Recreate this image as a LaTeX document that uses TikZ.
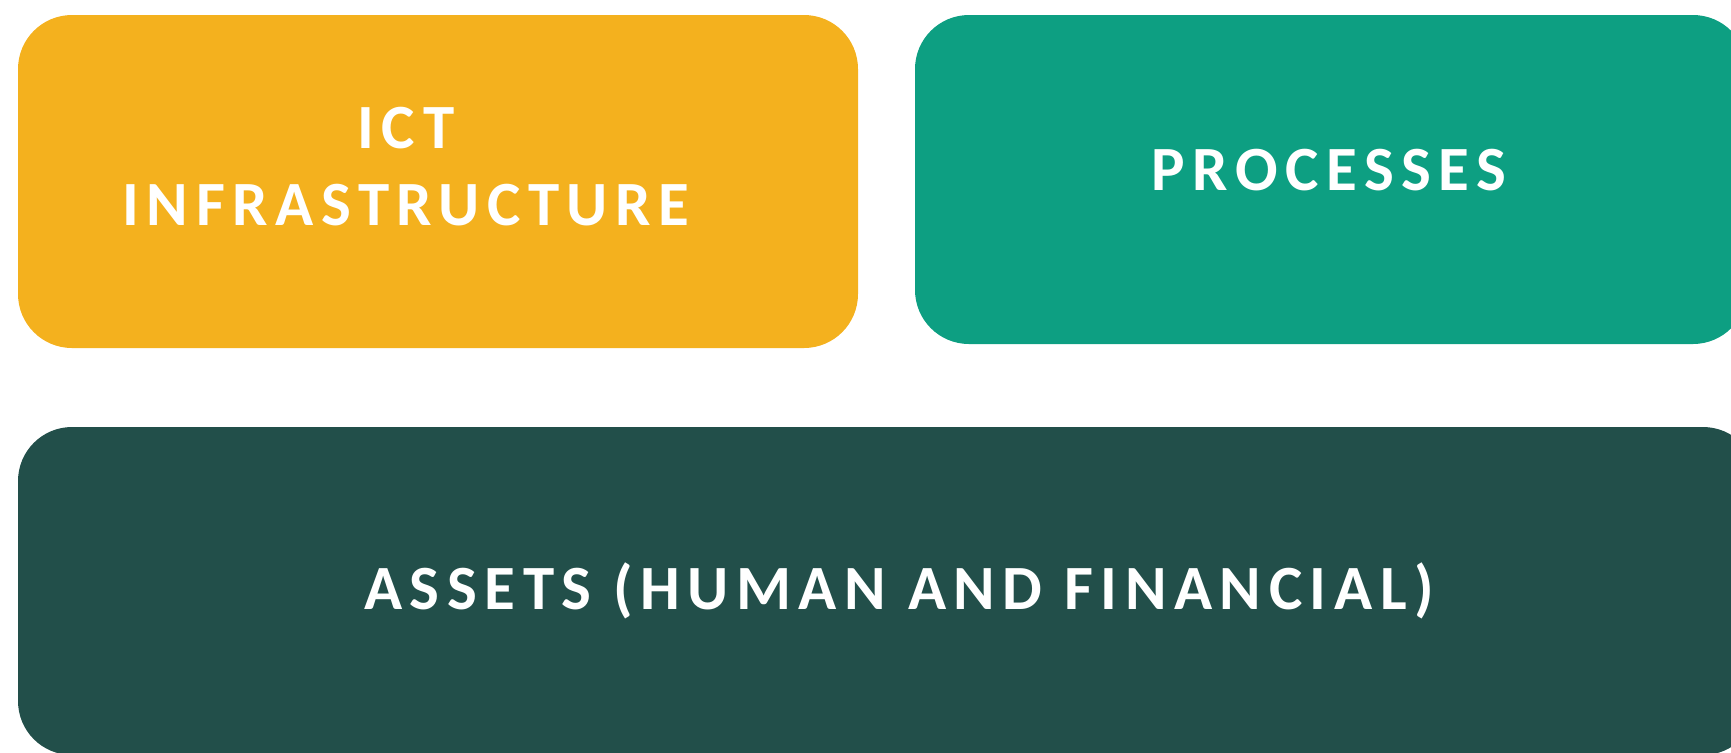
\documentclass[tikz,border=0pt]{standalone}
\usepackage{fontspec}
\setmainfont{Carlito}
\newfontfamily\capsfont{Carlito}[LetterSpace=12]
\usepackage{tikz}
\usetikzlibrary{positioning}

\definecolor{ictyellow}{RGB}{244,177,30}
\definecolor{procteal}{RGB}{13,159,130}
\definecolor{assetgreen}{RGB}{34,79,74}

\begin{document}
\begin{tikzpicture}[x=0.5pt, y=-0.5pt,
  block/.style={draw=none, rounded corners=27pt, inner sep=0pt},
  caption/.style={text=white, align=center,
    font=\capsfont\bfseries\fontsize{31.5}{38.5}\selectfont}]
\useasboundingbox (0,0) rectangle (1731,752);
\clip (0,0) rectangle (1731,752);

\node[block, fill=ictyellow, minimum width=420pt, minimum height=166.5pt]
  (ict) at (438,181.5) {};
\node[block, fill=procteal, minimum width=416pt, minimum height=164.5pt]
  (proc) at (1331,179.5) {};
\node[block, fill=assetgreen, minimum width=869.5pt, minimum height=164pt]
  (assets) at (887.5,591) {};

\node[caption] (ictlabel) at (406,167) {ICT\\INFRASTRUCTURE};
\node[caption] (proclabel) at (1329,170) {PROCESSES};
\node[caption] (assetlabel) at (899,591) {ASSETS (HUMAN AND FINANCIAL)};
\end{tikzpicture}
\end{document}
